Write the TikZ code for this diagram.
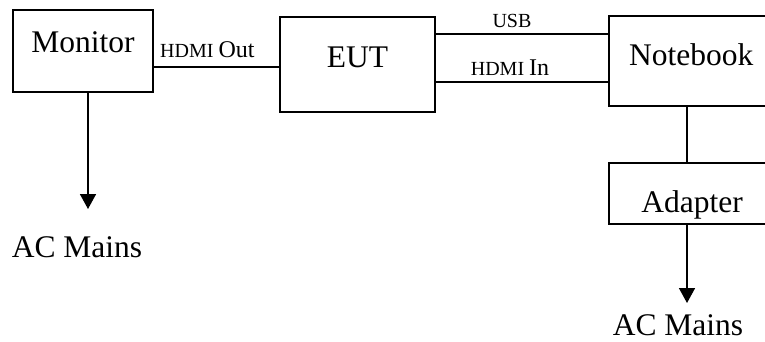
\documentclass[tikz,border=0pt]{standalone}
\usepackage{fontspec}
\setmainfont{Liberation Serif}
\usetikzlibrary{arrows.meta}
\tikzset{
  box/.style={draw, line width=1.6pt, rectangle, inner sep=0pt},
  big/.style={font=\fontsize{31.5}{36}\selectfont, inner sep=0pt, anchor=base},
  small/.style={inner sep=0pt, anchor=base},
  wire/.style={line width=1.6pt},
  arr/.style={line width=1.6pt, -{Triangle[width=16pt,length=15pt]}}
}
\newcommand{\sm}{\fontsize{20}{24}\selectfont}
\newcommand{\md}{\fontsize{24}{28}\selectfont}
\begin{document}
\begin{tikzpicture}[x=1pt,y=-1pt]
\clip (0,0) rectangle (765,341);
\fill[white] (0,0) rectangle (765,341);
% boxes
\node[box, minimum width=140pt, minimum height=82pt] (mon) at (83,51) {};
\node[box, minimum width=155pt, minimum height=95pt] (eut) at (357.5,64.5) {};
\node[box, minimum width=166pt, minimum height=90pt] (nb) at (692,61) {};
\node[box, minimum width=166pt, minimum height=61pt] (ad) at (692,193.5) {};
% box texts
\node[big] (montxt) at (83,52) {Monitor};
\node[big] (euttxt) at (357.5,67) {EUT};
\node[big, anchor=base west] (nbtxt) at (629,65) {Notebook};
\node[big] (adtxt) at (692,212) {Adapter};
\node[big] (ac1) at (77,257) {AC Mains};
\node[big] (ac2) at (678,335) {AC Mains};
% coordinates
\coordinate (ac1tip) at (88,209);
\coordinate (ac2tip) at (687,303);
% connectors
\draw[wire] (mon.east |- {(0,67)}) -- (eut.west |- {(0,67)});
\draw[wire] (eut.east |- {(0,34)}) -- (nb.west |- {(0,34)});
\draw[wire] (eut.east |- {(0,82)}) -- (nb.west |- {(0,82)});
\draw[wire] (nb.south -| {(687,0)}) -- (ad.north -| {(687,0)});
\draw[arr] (mon.south -| {(88,0)}) -- (ac1tip);
\draw[arr] (ad.south -| {(687,0)}) -- (ac2tip);
% connector labels
\node[small, anchor=base west] (lblout) at (160,57) {\sm HDMI \md Out};
\node[small] (lblusb) at (512,27) {\sm USB};
\node[small] (lblin) at (510,75) {\sm HDMI \md In};
\end{tikzpicture}
\end{document}
